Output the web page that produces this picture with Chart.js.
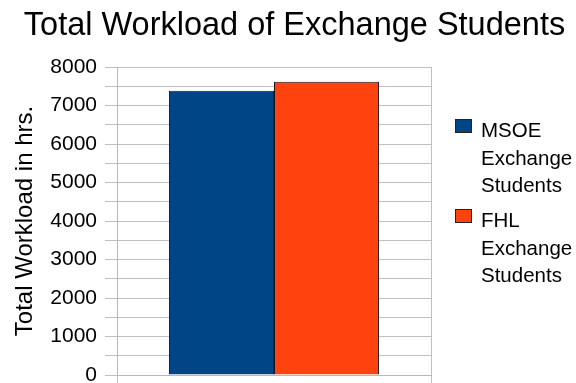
<!DOCTYPE html>
<html>
<head>
<meta charset="utf-8">
<script src="https://cdn.jsdelivr.net/npm/chart.js@4"></script>
<style>
  html, body { margin: 0; padding: 0; background: #fff; overflow: hidden; }
  #wrap { width: 576px; height: 383px; overflow: hidden; position: relative; }
  canvas { display: block; }
</style>
</head>
<body>
<div id="wrap"><canvas id="c" width="576" height="400"></canvas></div>
<script>
const chartTitle = 'Total Workload of Exchange Students';
const yAxisTitle = 'Total Workload in hrs.';
const categories = [''];
const seriesNames = [['MSOE', 'Exchange', 'Students'], ['FHL', 'Exchange', 'Students']];
const msoeValues = [7380];
const fhlValues = [7620];
const seriesColors = ['#004586', '#ff420e'];

const FONT = '"Liberation Sans", Arial, sans-serif';

const customText = {
  id: 'customText',
  afterDraw(chart) {
    const ctx = chart.ctx;
    ctx.save();
    // title
    ctx.fillStyle = '#000';
    ctx.font = '32.5px ' + FONT;
    ctx.textAlign = 'center';
    ctx.textBaseline = 'alphabetic';
    ctx.fillText(chartTitle, 294.5, 35);
    // legend
    const boxX = 455, boxW = 17, boxH = 14, textX = 481, lineGap = 27.5;
    const startY = [119, 209];
    ctx.font = '20.5px ' + FONT;
    ctx.textAlign = 'left';
    chart.data.datasets.forEach((ds, i) => {
      const y = startY[i];
      ctx.fillStyle = ds.backgroundColor;
      ctx.fillRect(boxX, y, boxW, boxH);
      ctx.strokeStyle = '#222';
      ctx.lineWidth = 1;
      ctx.strokeRect(boxX + 0.5, y + 0.5, boxW - 1, boxH - 1);
      ctx.fillStyle = '#000';
      seriesNames[i].forEach((line, j) => {
        ctx.fillText(line, textX, y + 18 + j * lineGap);
      });
    });
    ctx.restore();
  }
};

new Chart(document.getElementById('c'), {
  type: 'bar',
  data: {
    labels: categories,
    datasets: [
      { label: seriesNames[0].join(' '), data: msoeValues, backgroundColor: seriesColors[0], borderColor: '#1a1a1a', borderWidth: 1 },
      { label: seriesNames[1].join(' '), data: fhlValues, backgroundColor: seriesColors[1], borderColor: '#1a1a1a', borderWidth: 1 }
    ]
  },
  options: {
    responsive: false,
    animation: false,
    devicePixelRatio: 1,
    layout: { padding: { top: 67, right: 145, left: 0, bottom: 0 } },
    categoryPercentage: 0.669,
    barPercentage: 1,
    plugins: { legend: { display: false }, title: { display: false }, tooltip: { enabled: false } },
    scales: {
      x: {
        grid: { display: true, color: '#c0c0c0', tickLength: 8, offset: true },
        border: { display: true, color: '#b8b8b8' },
        ticks: { display: true, font: { size: 20, family: FONT }, color: '#000' },
        afterFit(scale) { scale.height = 25; scale.paddingLeft = 0; scale.paddingRight = 0; }
      },
      y: {
        min: 0, max: 8000,
        ticks: {
          stepSize: 500,
          autoSkip: false,
          padding: 8,
          color: '#000',
          font: { size: 21, family: FONT },
          callback: v => (v % 1000 === 0 ? String(v) : '')
        },
        grid: { color: '#c0c0c0', tickLength: 12 },
        border: { display: true, color: '#b8b8b8' },
        title: { display: true, text: yAxisTitle, color: '#000', font: { size: 24, family: FONT }, padding: { top: 11, bottom: 0 } },
        afterFit(scale) { scale.width = 117; scale.paddingTop = 0; scale.paddingBottom = 0; }
      }
    }
  },
  plugins: [customText]
});
</script>
</body>
</html>
